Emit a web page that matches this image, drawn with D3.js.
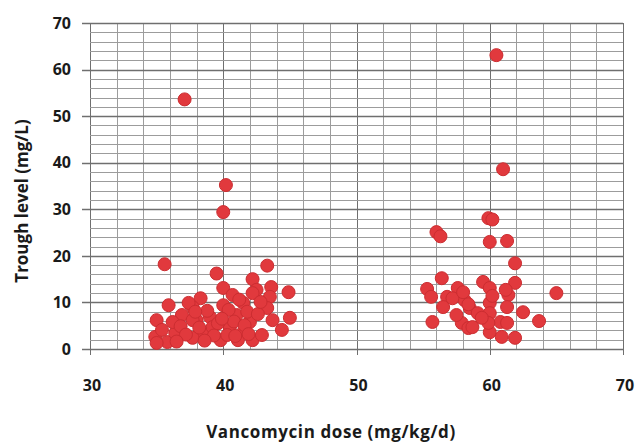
<!DOCTYPE html>
<html>
<head>
<meta charset="utf-8">
<script src="https://cdn.jsdelivr.net/npm/d3@7/dist/d3.min.js"></script>
<style>
  body { margin: 0; background: #fff; }
  text { font-family: "Open Sans", "Noto Sans", sans-serif; font-weight: bold; fill: #1a1a1a; }
</style>
</head>
<body>
<div id="chart"></div>
<script>
var width = 635;
var height = 443;

/* Vancomycin dose (mg/kg/d) of each patient */
var doseX = [
  37.1, 40.2, 40.0, 35.6, 39.5, 43.3,
  42.2, 40.0, 42.5, 43.6, 44.9, 38.3, 40.7, 43.5, 42.2,
  37.7, 40.0, 41.5, 43.3, 43.7, 45.0, 44.4, 42.2, 42.9, 39.8,
  38.0, 39.0, 41.0, 42.0, 38.5, 40.5, 41.5, 39.2, 40.3, 37.7, 41.1,
  35.9, 35.0, 34.9, 35.4, 35.8, 35.0, 36.4, 36.9, 37.4, 36.2, 37.7,
  38.8, 39.6, 40.8, 41.8, 40.4, 41.2, 39.3, 38.2, 36.8, 37.2, 41.6, 42.6,
  40.9, 39.9, 38.6, 36.5, 37.9, 42.8, 41.9,
  60.5, 61.0, 59.9, 60.2, 56.0, 56.3, 60.0, 61.3, 61.9, 56.4, 55.3, 55.6,
  59.5, 60.0, 57.6, 56.8, 58.1, 61.4, 61.9, 56.5, 58.5, 59.1, 60.0, 61.3,
  60.0, 55.7, 57.9, 58.4, 58.7, 60.0, 60.8, 61.3, 60.9, 61.9, 59.9, 59.4,
  57.5, 57.2, 65.0, 62.5, 63.7, 61.2, 60.2, 58.0, 58.4
];

/* Trough level (mg/L) of each patient, same order as doseX */
var troughY = [
  53.6, 35.2, 29.4, 18.2, 16.2, 17.9,
  15.0, 13.1, 12.7, 13.3, 12.2, 10.9, 11.6, 11.2, 12.0,
  9.0, 9.4, 9.9, 8.8, 6.2, 6.7, 4.1, 1.9, 3.0, 1.9,
  6.2, 6.9, 7.3, 5.8, 3.4, 4.7, 3.6, 4.7, 3.0, 2.4, 1.9,
  9.4, 6.2, 2.6, 4.1, 1.5, 1.3, 3.4, 7.3, 9.9, 5.8, 6.2,
  8.2, 5.5, 5.9, 8.0, 8.4, 10.6, 2.9, 4.6, 4.9, 3.1, 5.1, 7.5,
  2.8, 6.5, 1.8, 1.6, 8.0, 10.1, 3.2,
  63.1, 38.6, 28.1, 27.8, 25.1, 24.2, 23.0, 23.2, 18.4, 15.2, 12.9, 11.2,
  14.4, 13.1, 13.1, 11.2, 10.5, 11.6, 14.2, 9.0, 8.8, 7.7, 9.9, 9.0,
  7.7, 5.8, 5.6, 4.5, 4.7, 3.6, 5.8, 5.6, 2.6, 2.4, 5.6, 6.7,
  7.3, 10.9, 12.0, 7.9, 6.0, 12.7, 11.4, 12.2, 9.6
];

var xTicks = [30, 40, 50, 60, 70];
var yTicks = [0, 10, 20, 30, 40, 50, 60, 70];

var margin = {top: 23, left: 90, bottom: 94, right: 12};

var svg = d3.select("#chart").append("svg")
  .attr("width", width)
  .attr("height", height);

var xScale = d3.scaleLinear()
  .domain([30, 70])
  .range([margin.left, width - margin.right]);
var yScale = d3.scaleLinear()
  .domain([0, 70])
  .range([height - margin.bottom, margin.top]);

/* minor grid every 2 units, major every 10 */
var minorX = d3.range(30, 70.1, 2);
var minorY = d3.range(0, 70.1, 2);

var grid = svg.append("g").attr("class", "grid");
grid.selectAll(".vline")
  .data(minorX)
  .enter().append("line")
    .attr("x1", (d) => Math.round(xScale(d)) + 0.5)
    .attr("x2", (d) => Math.round(xScale(d)) + 0.5)
    .attr("y1", yScale(70))
    .attr("y2", (d) => d % 10 === 0 ? yScale(0) + 6 : yScale(0))
    .attr("stroke", (d) => d % 10 === 0 ? "#6f6f6f" : "#9c9c9c")
    .attr("stroke-width", 1);
grid.selectAll(".hline")
  .data(minorY)
  .enter().append("line")
    .attr("x1", (d) => d % 10 === 0 ? xScale(30) - 8 : xScale(30))
    .attr("x2", xScale(70))
    .attr("y1", (d) => Math.round(yScale(d)) + 0.5)
    .attr("y2", (d) => Math.round(yScale(d)) + 0.5)
    .attr("stroke", (d) => d % 10 === 0 ? "#6f6f6f" : "#9c9c9c")
    .attr("stroke-width", (d) => d % 10 === 0 ? 1.3 : 1);

/* tick labels */
svg.append("g").selectAll("text")
  .data(yTicks)
  .enter().append("text")
    .attr("x", 71)
    .attr("y", (d) => yScale(d))
    .attr("dy", "0.36em")
    .attr("text-anchor", "end")
    .style("font-size", "16px")
    .text((d) => d);
svg.append("g").selectAll("text")
  .data(xTicks)
  .enter().append("text")
    .attr("x", (d) => xScale(d) + 2)
    .attr("y", 391)
    .attr("text-anchor", "middle")
    .style("font-size", "16px")
    .text((d) => d);

/* axis titles */
svg.append("text")
  .attr("x", 331)
  .attr("y", 438)
  .attr("text-anchor", "middle")
  .style("font-size", "17px")
  .style("letter-spacing", "0.6px")
  .text("Vancomycin dose (mg/kg/d)");
svg.append("text")
  .attr("transform", "translate(28,201) rotate(-90)")
  .attr("text-anchor", "middle")
  .style("font-size", "17px")
  .text("Trough level (mg/L)");

/* patients */
var points = doseX.map((d, i) => ({dose: d, trough: troughY[i]}));
svg.append("g").selectAll("circle")
  .data(points)
  .enter().append("circle")
    .attr("cx", (d) => xScale(d.dose))
    .attr("cy", (d) => yScale(d.trough))
    .attr("r", 6.5)
    .attr("fill", "#e1393d")
    .attr("stroke", "#cc2d31")
    .attr("stroke-width", 1);
</script>
</body>
</html>
